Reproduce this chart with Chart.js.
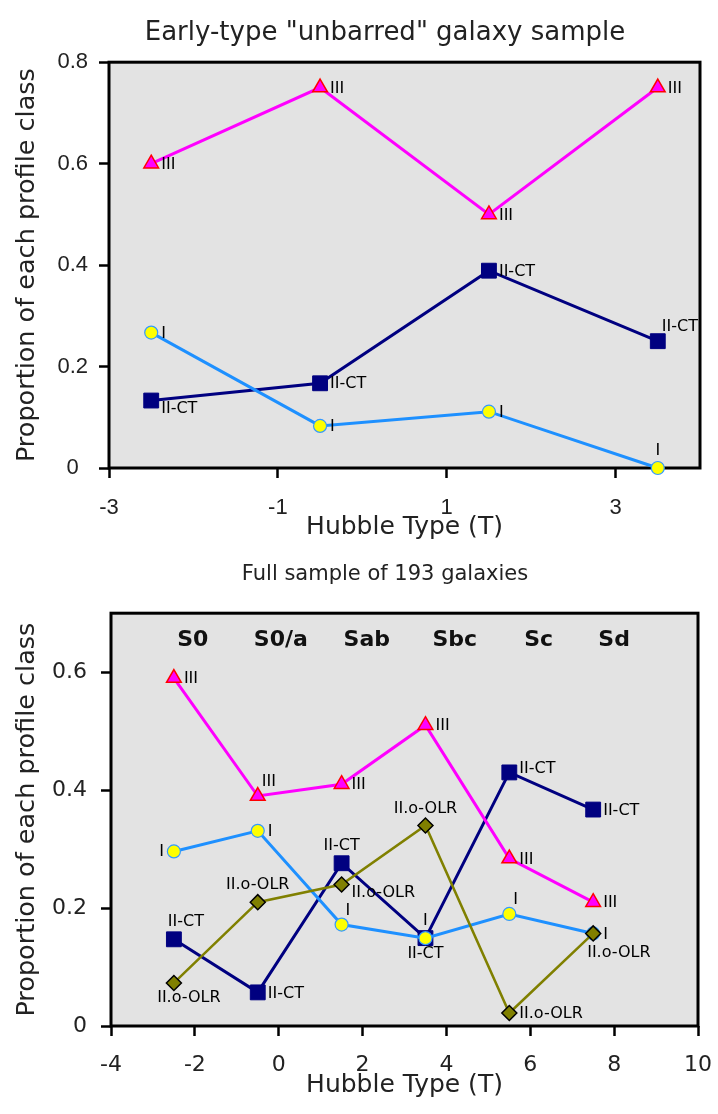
<!DOCTYPE html>
<html lang="en">
<head>
  <meta charset="UTF-8">
  <title>Profile class proportions vs Hubble type</title>
  <script src="https://cdn.jsdelivr.net/npm/chart.js"></script>
  <style>
    body {
      margin: 0;
      background: #fff;
    }
    canvas {
      display: block;
    }
  </style>
</head>
<body>

  <canvas id="earlyChart" width="718" height="550"></canvas>
  <canvas id="fullChart" width="718" height="564"></canvas>

  <script>
    // --- top panel: early-type "unbarred" sample ---
    const earlyT = [-2.5, -0.5, 1.5, 3.5];
    const earlyIII = [0.6, 0.75, 0.5, 0.75];
    const earlyIICT = [0.133, 0.167, 0.389, 0.25];
    const earlyI = [0.267, 0.083, 0.111, 0];
    const earlyXTicks = [-3, -1, 1, 3];
    const earlyYTicks = [0, 0.2, 0.4, 0.6, 0.8];

    // --- bottom panel: full sample of 193 galaxies ---
    const fullT = [-2.5, -0.5, 1.5, 3.5, 5.5, 7.5];
    const fullIII = [0.59, 0.39, 0.41, 0.51, 0.284, 0.21];
    const fullIICT = [0.147, 0.057, 0.276, 0.149, 0.43, 0.367];
    const fullI = [0.296, 0.331, 0.172, 0.149, 0.19, 0.157];
    const fullOLR = [0.073, 0.21, 0.24, 0.34, 0.022, 0.157];
    const fullXTicks = [-4, -2, 0, 2, 4, 6, 8, 10];
    const fullYTicks = [0, 0.2, 0.4, 0.6];
    const morphTypes = ['S0', 'S0/a', 'Sab', 'Sbc', 'Sc', 'Sd'];
    const morphT = [-2.05, 0.05, 2.1, 4.2, 6.2, 8.0];
    const morphLevel = 0.654;

    // where each point's tag sits relative to its marker
    const earlyPosIII = ['r', 'r', 'r', 'r'];
    const earlyPosIICT = ['rb', 'r', 'r', 'tr'];
    const earlyPosI = ['r', 'r', 'r', 't'];
    const fullPosIII = ['r', 'tr', 'r', 'r', 'r', 'r'];
    const fullPosIICT = ['tR', 'r', 't', 'b', 'rt', 'r'];
    const fullPosI = ['l', 'r', 'tr', 't', 'tr', 'r'];
    const fullPosOLR = ['bR', 't', 'rb', 't', 'r', 'br'];

    const FONT = '"DejaVu Sans", Verdana, sans-serif';
    const TEXT = '#222';

    const styleIII = {
      borderColor: '#ff00ff', borderWidth: 3,
      pointStyle: 'triangle', pointRadius: 8.5,
      pointBackgroundColor: '#ff00ff', pointBorderColor: '#ff0000', pointBorderWidth: 1.5
    };
    const styleIICT = {
      borderColor: '#000080', borderWidth: 3,
      pointStyle: 'rect', pointRadius: 10.5,
      pointBackgroundColor: '#000080', pointBorderColor: '#000080', pointBorderWidth: 1
    };
    const styleI = {
      borderColor: '#1e90ff', borderWidth: 3,
      pointStyle: 'circle', pointRadius: 6.5,
      pointBackgroundColor: '#ffff00', pointBorderColor: '#3399ff', pointBorderWidth: 1.2
    };
    const styleOLR = {
      borderColor: '#808000', borderWidth: 2.5,
      pointStyle: 'rectRot', pointRadius: 7.5,
      pointBackgroundColor: '#808000', pointBorderColor: '#000000', pointBorderWidth: 1.5
    };

    function series(tag, xs, ys, pos, style) {
      return Object.assign({
        label: tag,
        tag: tag,
        tagPos: pos,
        data: xs.map((x, i) => ({ x: x, y: ys[i] })),
        tension: 0,
        fill: false,
        clip: false
      }, style);
    }

    const tagOffsets = {
      r: [10, 1, 'left'],
      rb: [10, 8, 'left'],
      rt: [10, -4, 'left'],
      l: [-10, 0, 'right'],
      t: [0, -17, 'center'],
      tR: [12, -17, 'center'],
      b: [0, 16, 'center'],
      bR: [15, 15, 'center'],
      tr: [4, -14, 'left'],
      br: [-6, 19, 'left']
    };

    // grey plot background and black frame
    const framePlugin = {
      id: 'frame',
      beforeDraw(chart) {
        const a = chart.chartArea, ctx = chart.ctx;
        ctx.save();
        ctx.fillStyle = '#e3e3e3';
        ctx.fillRect(a.left, a.top, a.right - a.left, a.bottom - a.top);
        ctx.restore();
      },
      beforeDatasetsDraw(chart) {
        const a = chart.chartArea, ctx = chart.ctx;
        ctx.save();
        ctx.strokeStyle = '#000';
        ctx.lineWidth = 3;
        ctx.strokeRect(a.left, a.top, a.right - a.left, a.bottom - a.top);
        ctx.restore();
      }
    };

    // profile class tag next to every point
    const tagPlugin = {
      id: 'tags',
      afterDatasetsDraw(chart) {
        const ctx = chart.ctx;
        ctx.save();
        ctx.font = '16px ' + FONT;
        ctx.fillStyle = '#000';
        ctx.textBaseline = 'middle';
        chart.data.datasets.forEach((ds, di) => {
          chart.getDatasetMeta(di).data.forEach((pt, i) => {
            const [dx, dy, align] = tagOffsets[ds.tagPos[i]];
            ctx.textAlign = align;
            ctx.fillText(ds.tag, pt.x + dx, pt.y + dy);
          });
        });
        ctx.restore();
      }
    };

    // morphological type names across the top of the lower panel
    const morphPlugin = {
      id: 'morph',
      beforeDatasetsDraw(chart) {
        const ctx = chart.ctx, xs = chart.scales.x, ys = chart.scales.y;
        ctx.save();
        ctx.font = 'bold 22px ' + FONT;
        ctx.fillStyle = '#111';
        ctx.textAlign = 'center';
        ctx.textBaseline = 'middle';
        morphTypes.forEach((name, i) => {
          ctx.fillText(name, xs.getPixelForValue(morphT[i]), ys.getPixelForValue(morphLevel));
        });
        ctx.restore();
      }
    };

    // nudge the chart title so it sits where the original has it
    function titleShift(center) {
      return {
        id: 'titleShift',
        afterLayout(chart) {
          const t = chart.titleBlock;
          if (t) t.left = 2 * center - t.right;
        }
      };
    }

    function makeOptions(o) {
      return {
        responsive: false,
        animation: false,
        events: [],
        layout: { padding: o.padding },
        plugins: {
          legend: { display: false },
          tooltip: { enabled: false },
          title: {
            display: true,
            text: o.title,
            color: TEXT,
            font: { family: FONT, size: o.titleSize, weight: 'normal', lineHeight: 1.2 },
            padding: o.titlePad
          }
        },
        scales: {
          x: {
            type: 'linear',
            min: o.xMin,
            max: o.xMax,
            afterBuildTicks: s => { s.ticks = o.xTicks.map(v => ({ value: v })); },
            afterFit: s => {
              s.height = 74;
              // the end label may hang over the right padding, as in the original
              s.paddingRight = Math.min(s.paddingRight, 14);
            },
            grid: { drawOnChartArea: false, drawTicks: true, tickLength: 10, tickWidth: 2.5, tickColor: '#000' },
            border: { display: false },
            ticks: {
              color: TEXT, padding: o.xTickPad,
              font: { family: o.tickFont, size: 22 },
              callback: v => String(v)
            },
            title: {
              display: true,
              text: 'Hubble Type (T)',
              color: TEXT,
              font: { family: FONT, size: 25, lineHeight: 1.2 },
              padding: { top: 0, bottom: 0 }
            }
          },
          y: {
            min: 0,
            max: o.yMax,
            afterBuildTicks: s => { s.ticks = o.yTicks.map(v => ({ value: v })); },
            afterFit: s => { s.width = o.yWidth; },
            grid: { drawOnChartArea: false, drawTicks: true, tickLength: 10, tickWidth: 2.5, tickColor: '#000' },
            border: { display: false },
            ticks: {
              color: TEXT, padding: o.yTickPad, crossAlign: o.yAlign,
              font: { family: o.tickFont, size: 22 },
              callback: v => (v === 0 ? '0' : v.toFixed(1))
            },
            title: {
              display: true,
              text: 'Proportion of each profile class',
              color: TEXT,
              font: { family: FONT, size: 25.5, lineHeight: 1.2 },
              padding: { top: 12, bottom: 0 }
            }
          }
        }
      };
    }

    new Chart(document.getElementById('earlyChart'), {
      type: 'line',
      data: {
        datasets: [
          series('I', earlyT, earlyI, earlyPosI, styleI),
          series('III', earlyT, earlyIII, earlyPosIII, styleIII),
          series('II-CT', earlyT, earlyIICT, earlyPosIICT, styleIICT)
        ]
      },
      options: makeOptions({
        title: 'Early-type "unbarred" galaxy sample',
        titleSize: 26,
        titlePad: { top: 18, bottom: 13 },
        padding: { left: 0, right: 18, top: 0, bottom: 8 },
        xMin: -3, xMax: 4, xTicks: earlyXTicks,
        yMax: 0.8, yTicks: earlyYTicks,
        yWidth: 109,
        tickFont: '"Liberation Sans", Arial, sans-serif',
        xTickPad: 17, yTickPad: 11, yAlign: 'center'
      }),
      plugins: [framePlugin, tagPlugin, titleShift(385)]
    });

    new Chart(document.getElementById('fullChart'), {
      type: 'line',
      data: {
        datasets: [
          series('II.o-OLR', fullT, fullOLR, fullPosOLR, styleOLR),
          series('I', fullT, fullI, fullPosI, styleI),
          series('III', fullT, fullIII, fullPosIII, styleIII),
          series('II-CT', fullT, fullIICT, fullPosIICT, styleIICT)
        ]
      },
      options: makeOptions({
        title: 'Full sample of 193 galaxies',
        titleSize: 21,
        titlePad: { top: 12, bottom: 26 },
        padding: { left: 0, right: 20, top: 0, bottom: 14 },
        xMin: -4, xMax: 10, xTicks: fullXTicks,
        yMax: 0.7, yTicks: fullYTicks,
        yWidth: 111,
        tickFont: FONT,
        xTickPad: 16, yTickPad: 14, yAlign: 'near'
      }),
      plugins: [framePlugin, morphPlugin, tagPlugin, titleShift(385)]
    });
  </script>

</body>
</html>
